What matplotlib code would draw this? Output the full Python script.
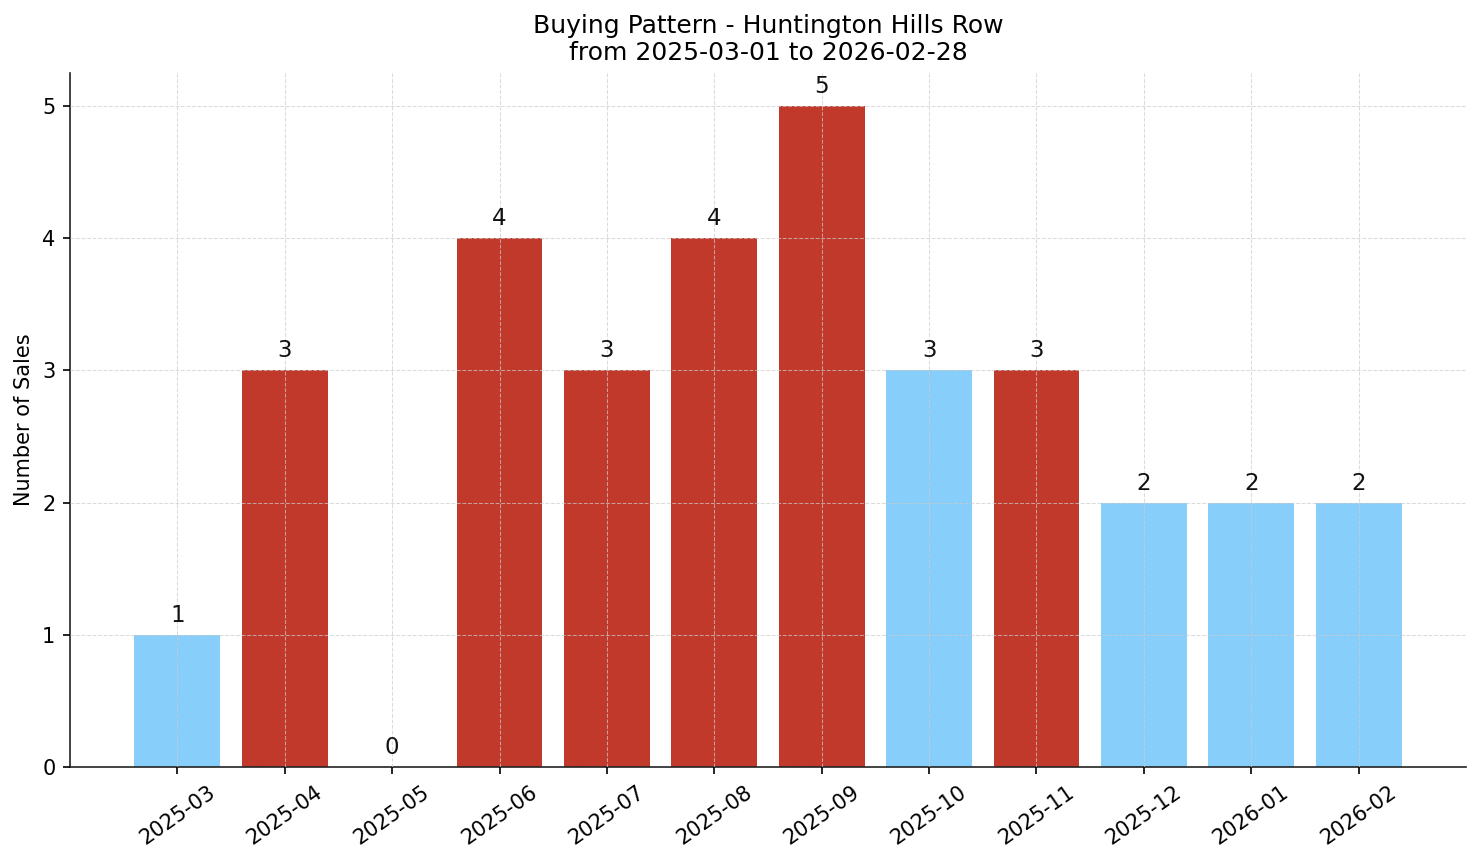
import matplotlib
matplotlib.use("Agg")
import matplotlib.pyplot as plt

months = ["2025-03", "2025-04", "2025-05", "2025-06", "2025-07", "2025-08",
          "2025-09", "2025-10", "2025-11", "2025-12", "2026-01", "2026-02"]
sales = [1, 3, 0, 4, 3, 4, 5, 3, 3, 2, 2, 2]
is_red = [False, True, False, True, True, True, True, False, True, False, False, False]

RED = "#C0392B"
BLUE = "#87CEFA"
colors = [RED if r else BLUE for r in is_red]

fig = plt.figure(figsize=(1481 / 150, 863 / 150), dpi=150)
ax = fig.add_axes([70 / 1481, 1 - 767 / 863, (1466 - 70) / 1481, (767 - 73) / 863])

x = list(range(len(months)))
bars = ax.bar(x, sales, color=colors, width=0.8, zorder=1)
for xi, v in zip(x, sales):
    ax.text(xi, v + 0.06, str(v), ha="center", va="bottom", fontsize=11, color="#111111")

ax.set_xticks(x)
ax.set_xticklabels(months, rotation=35, ha="center", fontsize=10)
ax.tick_params(axis="y", labelsize=10)
ax.set_xlim(-1, 12)
ax.set_ylim(0, 5.25)
ax.set_ylabel("Number of Sales", fontsize=10)
ax.set_title("Buying Pattern - Huntington Hills Row\nfrom 2025-03-01 to 2026-02-28", fontsize=12)
ax.grid(True, linestyle="--", linewidth=0.5, color="#cccccc", alpha=0.7, zorder=2)
ax.set_axisbelow(False)
for s in ["top", "right"]:
    ax.spines[s].set_visible(False)
for s in ["left", "bottom"]:
    ax.spines[s].set_color("#222222")

fig.savefig("out.png", dpi=150)
